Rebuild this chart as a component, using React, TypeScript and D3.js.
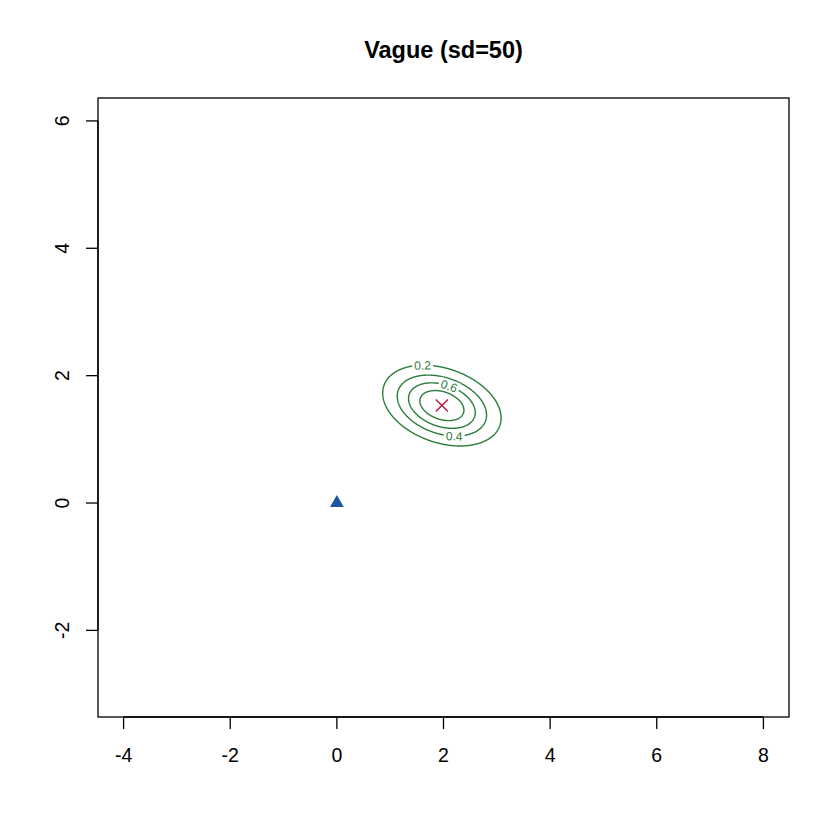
import * as d3 from "d3";
import { useEffect, useRef } from "react";

// axis limits and ticks (R style, 4% expansion)
const xLim = [-4, 8];
const yLim = [-3, 6];
const xTicks = [-4, -2, 0, 2, 4, 6, 8];
const yTicks = [-2, 0, 2, 4, 6];

// posterior (bivariate normal) shown as contours of relative density
const postMean = [1.97, 1.53];
const postCov = [
  [0.383, -0.0675],
  [-0.0675, 0.125],
];
const contourLevels = [0.2, 0.4, 0.6, 0.8];
// approximate label spots (data units), snapped to the line below
const contourLabels = [
  { level: 0.2, x: 1.61, y: 2.12 },
  { level: 0.6, x: 2.08, y: 1.76 },
  { level: 0.4, x: 2.2, y: 1.06 },
];

// prior mean (triangle) and posterior mode (cross)
const priorPoint = [0, 0];
const modePoint = [1.97, 1.53];

const title = "Vague (sd=50)";

const W = 840,
  H = 840;
const box = { left: 98, right: 789, top: 98, bottom: 717 };
const green = "#2b7d3b";

export default function App() {
  const ref = useRef<SVGSVGElement>(null);

  useEffect(() => {
    const svg = d3.select(ref.current);
    svg.selectAll("*").remove();

    const ex = (xLim[1] - xLim[0]) * 0.04;
    const ey = (yLim[1] - yLim[0]) * 0.04;
    const x = d3
      .scaleLinear()
      .domain([xLim[0] - ex, xLim[1] + ex])
      .range([box.left, box.right]);
    const y = d3
      .scaleLinear()
      .domain([yLim[0] - ey, yLim[1] + ey])
      .range([box.bottom, box.top]);

    const font = "'Liberation Sans', Arial, Helvetica, sans-serif";

    // density
    const det = postCov[0][0] * postCov[1][1] - postCov[0][1] * postCov[1][0];
    const inv = [
      [postCov[1][1] / det, -postCov[0][1] / det],
      [-postCov[1][0] / det, postCov[0][0] / det],
    ];
    const dens = (px: number, py: number) => {
      const dx = px - postMean[0],
        dy = py - postMean[1];
      const q = dx * (inv[0][0] * dx + inv[0][1] * dy) + dy * (inv[1][0] * dx + inv[1][1] * dy);
      return Math.exp(-0.5 * q);
    };
    const grad = (px: number, py: number) => {
      const dx = px - postMean[0],
        dy = py - postMean[1];
      const f = dens(px, py);
      return [-f * (inv[0][0] * dx + inv[0][1] * dy), -f * (inv[1][0] * dx + inv[1][1] * dy)];
    };

    const step = 0.01;
    const gx0 = -0.5,
      gy0 = -0.5;
    const n = 501,
      m = 401;
    const values = new Array(n * m);
    for (let j = 0; j < m; j++) {
      for (let i = 0; i < n; i++) {
        values[i + j * n] = dens(gx0 + i * step, gy0 + j * step);
      }
    }
    const contours = d3.contours().size([n, m]).thresholds(contourLevels)(values);
    const proj = d3.geoTransform({
      point: function (px, py) {
        this.stream.point(x(gx0 + (px - 0.5) * step), y(gy0 + (py - 0.5) * step));
      },
    });
    const path = d3.geoPath(proj);

    svg
      .append("g")
      .selectAll("path")
      .data(contours)
      .join("path")
      .attr("d", (d) => path(d as any))
      .attr("fill", "none")
      .attr("stroke", green)
      .attr("stroke-width", 1.4);

    // contour labels, snapped onto the lines with a gap behind them
    const lab = svg.append("g");
    contourLabels.forEach((c) => {
      let px = c.x,
        py = c.y;
      for (let k = 0; k < 20; k++) {
        const g = grad(px, py);
        const gg = g[0] * g[0] + g[1] * g[1];
        const diff = c.level - dens(px, py);
        px += (diff * g[0]) / gg;
        py += (diff * g[1]) / gg;
      }
      const g = grad(px, py);
      const kx = (x(1) - x(0)),
        ky = (y(0) - y(1));
      let ang = (Math.atan2(-g[0] * ky * -1, -g[1] * kx) * 180) / Math.PI;
      // tangent in screen: (-gy*kx, -gx*ky)
      const tx = -g[1] * kx,
        ty = -g[0] * ky;
      ang = (Math.atan2(ty, tx) * 180) / Math.PI;
      if (ang > 90) ang -= 180;
      if (ang < -90) ang += 180;
      const gl = lab
        .append("g")
        .attr("transform", `translate(${x(px)},${y(py)}) rotate(${ang})`);
      gl.append("rect")
        .attr("x", -10.5)
        .attr("y", -6)
        .attr("width", 21)
        .attr("height", 12)
        .attr("fill", "white");
      gl.append("text")
        .attr("text-anchor", "middle")
        .attr("dy", "0.36em")
        .attr("font-family", font)
        .attr("font-size", 12)
        .attr("fill", green)
        .text(String(c.level));
    });

    // prior point
    svg
      .append("path")
      .attr("d", d3.symbol(d3.symbolTriangle, 82)())
      .attr("transform", `translate(${x(priorPoint[0])},${y(priorPoint[1])})`)
      .attr("fill", "#1f56a0");

    // posterior mode cross
    const cx = x(modePoint[0]),
      cy = y(modePoint[1]),
      r = 6;
    svg
      .append("path")
      .attr("d", `M${cx - r},${cy - r}L${cx + r},${cy + r}M${cx - r},${cy + r}L${cx + r},${cy - r}`)
      .attr("stroke", "#b5163e")
      .attr("stroke-width", 1.4)
      .attr("fill", "none");

    // box
    svg
      .append("rect")
      .attr("x", box.left)
      .attr("y", box.top)
      .attr("width", box.right - box.left)
      .attr("height", box.bottom - box.top)
      .attr("fill", "none")
      .attr("stroke", "black")
      .attr("stroke-width", 1.3);

    // x axis
    const xa = svg.append("g");
    xa.append("line")
      .attr("x1", x(xTicks[0]))
      .attr("x2", x(xTicks[xTicks.length - 1]))
      .attr("y1", box.bottom)
      .attr("y2", box.bottom)
      .attr("stroke", "black")
      .attr("stroke-width", 1.3);
    xa.selectAll("line.t")
      .data(xTicks)
      .join("line")
      .attr("class", "t")
      .attr("x1", (d) => x(d))
      .attr("x2", (d) => x(d))
      .attr("y1", box.bottom)
      .attr("y2", box.bottom + 12)
      .attr("stroke", "black")
      .attr("stroke-width", 1.3);
    xa.selectAll("text")
      .data(xTicks)
      .join("text")
      .attr("x", (d) => x(d))
      .attr("y", 762)
      .attr("text-anchor", "middle")
      .attr("font-family", font)
      .attr("font-size", 19.5)
      .text((d) => String(d));

    // y axis
    const ya = svg.append("g");
    ya.append("line")
      .attr("y1", y(yTicks[0]))
      .attr("y2", y(yTicks[yTicks.length - 1]))
      .attr("x1", box.left)
      .attr("x2", box.left)
      .attr("stroke", "black")
      .attr("stroke-width", 1.3);
    ya.selectAll("line.t")
      .data(yTicks)
      .join("line")
      .attr("class", "t")
      .attr("y1", (d) => y(d))
      .attr("y2", (d) => y(d))
      .attr("x1", box.left)
      .attr("x2", box.left - 12)
      .attr("stroke", "black")
      .attr("stroke-width", 1.3);
    ya.selectAll("text")
      .data(yTicks)
      .join("text")
      .attr("transform", (d) => `translate(69,${y(d)}) rotate(-90)`)
      .attr("text-anchor", "middle")
      .attr("font-family", font)
      .attr("font-size", 19.5)
      .text((d) => String(d));

    // title
    svg
      .append("text")
      .attr("x", (box.left + box.right) / 2)
      .attr("y", 57.5)
      .attr("text-anchor", "middle")
      .attr("font-family", font)
      .attr("font-weight", "bold")
      .attr("font-size", 23.5)
      .text(title);
  }, []);

  return (
    <svg
      ref={ref}
      width={W}
      height={H}
      style={{ position: "absolute", left: 0, top: 0, background: "white" }}
    />
  );
}
